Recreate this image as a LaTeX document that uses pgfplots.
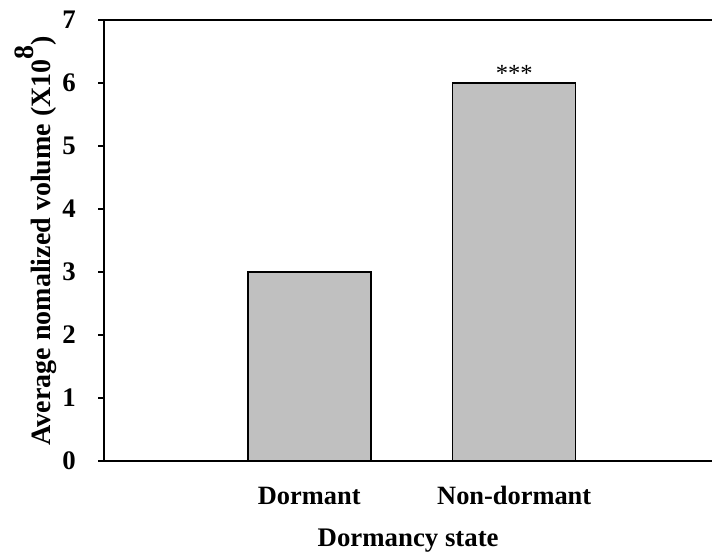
\documentclass[border=0pt]{standalone}
\usepackage{pgfplots}
\pgfplotsset{compat=1.18}
\usepackage{fontspec}
\setmainfont{Liberation Serif}
\definecolor{barfill}{RGB}{192,192,192}
\begin{document}
\begin{tikzpicture}
\begin{axis}[
  name=ax,
  scale only axis,
  width=303.85pt, height=220.5pt,
  xmin=0, xmax=2.965, ymin=0, ymax=7,
  separate axis lines,
  axis x line=box, axis y line=left,
  axis line style={-, line width=1pt},
  x axis line style={-}, y axis line style={-},
  xtick={1,2}, xticklabels={Dormant,Non-dormant},
  x tick style={draw=none},
  ytick={0,1,2,3,4,5,6,7},
  y tick style={line width=1pt, black},
  tick align=outside, major tick length=3pt,
  /pgf/number format/assume math mode=true,
  xticklabel style={font=\fontsize{13.2pt}{15pt}\selectfont\bfseries, anchor=base, yshift=-19pt},
  yticklabel style={font=\fontsize{13.4pt}{15pt}\selectfont\bfseries, anchor=east, inner sep=0pt, xshift=-11pt},
  ylabel={Average nomalized volume (X10\raisebox{0.6em}{8})},
  xlabel={Dormancy state},
  every axis y label/.style={at={(axis description cs:-0.089,0.5)}, rotate=90, anchor=base, font=\fontsize{14pt}{16pt}\selectfont\bfseries},
  every axis x label/.style={at={(axis description cs:0.5,-0.193)}, anchor=base, font=\fontsize{13.4pt}{15pt}\selectfont\bfseries},
  ybar, bar width=61.5pt,
]
\addplot[fill=barfill, draw=black, line width=0.75pt] coordinates {(1,3) (2,6)};
\node[anchor=base, inner sep=0pt, font=\fontsize{12.3pt}{14pt}\selectfont] at (axis cs:2,6.03) {***};
\end{axis}
\pgfresetboundingbox
\useasboundingbox (ax.south west) ++(-52.15pt,-47pt) rectangle ++(356pt,277.5pt);
\end{tikzpicture}
\end{document}
